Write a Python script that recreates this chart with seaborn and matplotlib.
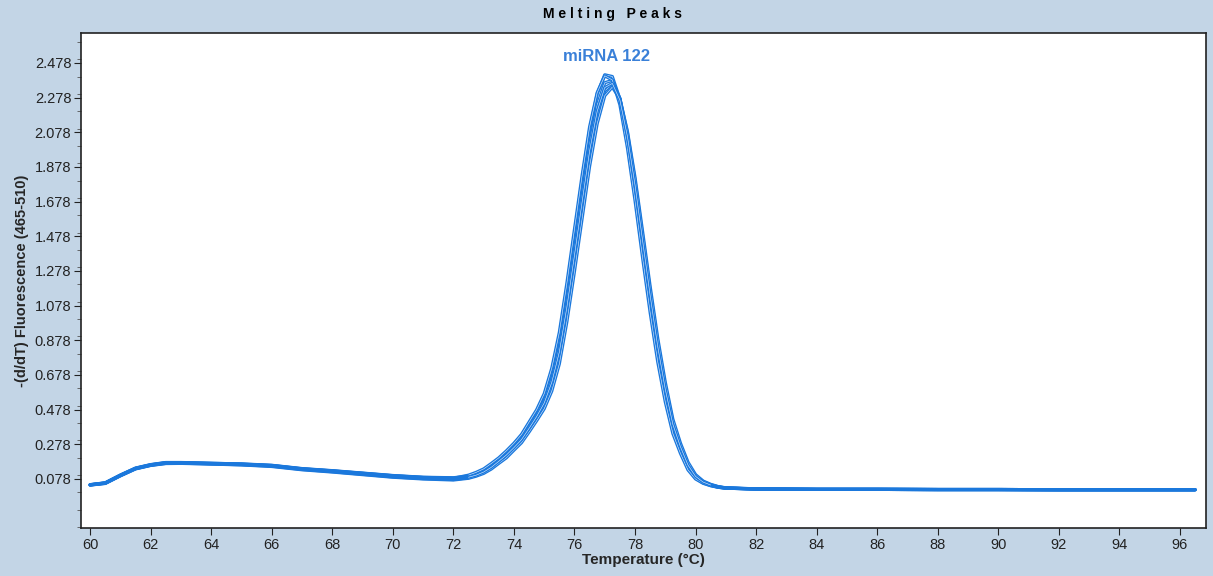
import numpy as np
import pandas as pd
import matplotlib
matplotlib.use("Agg")
import matplotlib.pyplot as plt
import seaborn as sns
from matplotlib.ticker import MultipleLocator, FormatStrFormatter

# temperature grid (deg C), finer around the peak
temps = [60, 60.5, 61, 61.5, 62, 62.5, 63, 64, 65, 66, 67, 68, 69, 70, 71, 72,
         72.5, 72.75, 73, 73.25, 73.5, 73.75, 74, 74.25, 74.5, 74.75, 75, 75.25,
         75.5, 75.75, 76, 76.25, 76.5, 76.75, 77, 77.25, 77.5, 77.75, 78, 78.25,
         78.5, 78.75, 79, 79.25, 79.5, 79.75, 80, 80.25, 80.5, 80.75, 81,
         82, 84, 86, 88, 90, 92, 94, 96.5]

# -(d/dT) fluorescence for each replicate
curve_1 = [0.045, 0.055, 0.100, 0.140, 0.160, 0.172, 0.172, 0.168, 0.165, 0.157, 0.138,
           0.126, 0.112, 0.098, 0.088, 0.085,
           0.095, 0.110, 0.130, 0.160, 0.195, 0.235, 0.280, 0.330, 0.400, 0.470, 0.560,
           0.700, 0.900, 1.180, 1.490, 1.800, 2.090, 2.300, 2.410, 2.400, 2.270, 2.030,
           1.730, 1.400, 1.080, 0.790, 0.550, 0.360, 0.240, 0.140, 0.082, 0.055, 0.040,
           0.030, 0.025,
           0.020, 0.018, 0.018, 0.017, 0.017, 0.016, 0.016, 0.016]
curve_2 = [0.044, 0.054, 0.098, 0.138, 0.158, 0.170, 0.171, 0.166, 0.162, 0.154, 0.135,
           0.123, 0.108, 0.094, 0.084, 0.080,
           0.090, 0.104, 0.122, 0.150, 0.185, 0.222, 0.266, 0.313, 0.380, 0.448, 0.530,
           0.655, 0.838, 1.104, 1.407, 1.714, 2.009, 2.234, 2.364, 2.378, 2.272, 2.053,
           1.766, 1.443, 1.124, 0.830, 0.584, 0.385, 0.258, 0.154, 0.090, 0.058, 0.042,
           0.031, 0.025,
           0.020, 0.018, 0.018, 0.017, 0.017, 0.016, 0.016, 0.016]
curve_3 = [0.043, 0.053, 0.097, 0.137, 0.157, 0.168, 0.169, 0.165, 0.160, 0.152, 0.133,
           0.120, 0.105, 0.090, 0.080, 0.075,
           0.085, 0.098, 0.115, 0.140, 0.175, 0.210, 0.252, 0.297, 0.361, 0.427, 0.500,
           0.611, 0.778, 1.030, 1.325, 1.630, 1.930, 2.169, 2.318, 2.355, 2.274, 2.074,
           1.800, 1.484, 1.166, 0.869, 0.617, 0.409, 0.275, 0.166, 0.098, 0.063, 0.045,
           0.033, 0.026,
           0.021, 0.018, 0.018, 0.017, 0.017, 0.016, 0.016, 0.016]
curve_4 = [0.043, 0.052, 0.096, 0.136, 0.156, 0.167, 0.168, 0.164, 0.159, 0.150, 0.131,
           0.118, 0.103, 0.088, 0.078, 0.072,
           0.082, 0.094, 0.110, 0.135, 0.168, 0.200, 0.244, 0.287, 0.349, 0.414, 0.483,
           0.585, 0.742, 0.986, 1.276, 1.578, 1.882, 2.128, 2.289, 2.339, 2.271, 2.083,
           1.818, 1.506, 1.189, 0.891, 0.636, 0.423, 0.285, 0.175, 0.103, 0.066, 0.047,
           0.034, 0.027,
           0.021, 0.018, 0.018, 0.017, 0.017, 0.016, 0.016, 0.016]
curve_5 = [0.044, 0.055, 0.099, 0.139, 0.159, 0.171, 0.171, 0.167, 0.163, 0.155, 0.136,
           0.124, 0.110, 0.096, 0.086, 0.082,
           0.100, 0.116, 0.136, 0.167, 0.200, 0.240, 0.284, 0.335, 0.406, 0.477, 0.570,
           0.717, 0.924, 1.209, 1.519, 1.827, 2.110, 2.307, 2.404, 2.380, 2.237, 1.988,
           1.684, 1.354, 1.038, 0.754, 0.522, 0.340, 0.226, 0.130, 0.078, 0.053, 0.039,
           0.030, 0.025,
           0.020, 0.018, 0.018, 0.017, 0.017, 0.016, 0.016, 0.016]
curve_6 = [0.045, 0.056, 0.101, 0.141, 0.161, 0.173, 0.173, 0.169, 0.164, 0.156, 0.137,
           0.125, 0.111, 0.097, 0.087, 0.083,
           0.088, 0.100, 0.118, 0.145, 0.180, 0.216, 0.259, 0.305, 0.370, 0.438, 0.516,
           0.635, 0.810, 1.070, 1.368, 1.673, 1.970, 2.199, 2.336, 2.360, 2.264, 2.053,
           1.773, 1.454, 1.136, 0.842, 0.595, 0.393, 0.264, 0.158, 0.093, 0.060, 0.043,
           0.032, 0.026,
           0.020, 0.018, 0.018, 0.017, 0.017, 0.016, 0.016, 0.016]

curves = {'1': curve_1, '2': curve_2, '3': curve_3,
          '4': curve_4, '5': curve_5, '6': curve_6}

y_ticks = [0.078, 0.278, 0.478, 0.678, 0.878, 1.078, 1.278, 1.478, 1.678,
           1.878, 2.078, 2.278, 2.478]
x_ticks = list(range(60, 97, 2))

BG = '#c3d5e6'
LINE = '#1b78dc'

frames = []
for name, vals in curves.items():
    frames.append(pd.DataFrame({'temp': temps, 'value': vals, 'curve': name}))
df = pd.concat(frames, ignore_index=True)

sns.set_style('white')
plt.rcParams['font.family'] = ['Liberation Sans', 'DejaVu Sans']

fig = plt.figure(figsize=(12.13, 5.76), dpi=100, facecolor=BG)
ax = fig.add_axes([0.0668, 0.0833, 0.9274, 0.8594])
ax.set_facecolor('white')

# each replicate: thick blue trace; around the peak a thin light core shows
# the gaps between the overlapping replicates
for name, sub in df.groupby('curve'):
    sns.lineplot(data=sub, x='temp', y='value', color=LINE, linewidth=2.3,
                 ax=ax, legend=False, estimator=None)
    peak = sub[(sub['temp'] >= 72.5) & (sub['temp'] <= 80.5)]
    sns.lineplot(data=peak, x='temp', y='value', color='#e8f2ff', linewidth=0.4,
                 ax=ax, legend=False, estimator=None)

ax.set_xlim(59.7, 96.86)
ax.set_ylim(-0.205, 2.651)
ax.set_xticks(x_ticks)
ax.set_yticks(y_ticks)
ax.yaxis.set_major_formatter(FormatStrFormatter('%.3f'))
ax.yaxis.set_minor_locator(MultipleLocator(0.1))
ax.tick_params(axis='both', which='major', direction='out', length=5, width=0.8,
               labelsize=10.5, colors='#222222', pad=2, left=True, bottom=True)
ax.tick_params(axis='y', which='minor', direction='out', length=3, width=0.6,
               colors='#555555', left=True)
for s in ax.spines.values():
    s.set_color('#222222')
    s.set_linewidth(1.2)

ax.set_xlabel('Temperature (°C)', fontsize=11, fontweight='bold', labelpad=1)
ax.set_ylabel('-(d/dT) Fluorescence (465-510)', fontsize=10.5, fontweight='bold',
              labelpad=4)

fig.text(0.505, 0.975, 'M e l t i n g   P e a k s', ha='center', va='center',
         fontsize=10, fontweight='bold', color='black')
ax.text(77.05, 2.515, 'miRNA 122', ha='center', va='center', fontsize=12,
        fontweight='bold', color='#3a80d8')

fig.savefig('out.png', dpi=100, facecolor=BG)
